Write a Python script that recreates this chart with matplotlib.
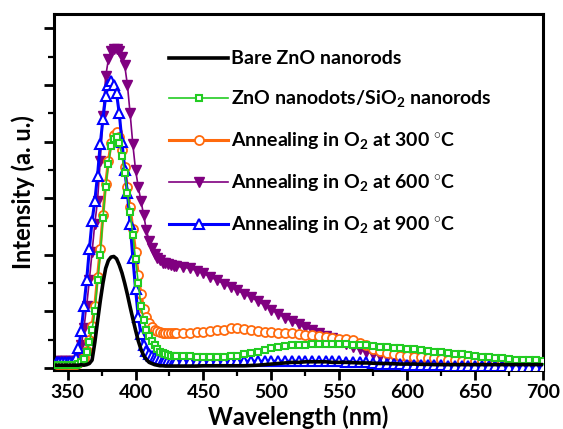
import numpy as np
import matplotlib
matplotlib.use('Agg')
import matplotlib.pyplot as plt
from matplotlib.ticker import MultipleLocator

plt.rcParams['font.family'] = ['Lato', 'DejaVu Sans']
plt.rcParams['font.weight'] = 'bold'
plt.rcParams['mathtext.fontset'] = 'custom'
plt.rcParams['mathtext.rm'] = 'Lato:bold'
plt.rcParams['mathtext.default'] = 'rm'

# Wavelength grid (nm): 2 nm steps through the UV peak, 5 nm steps in the visible tail
wavelength = np.concatenate([np.arange(342, 431, 2), np.arange(435, 701, 5)])

# PL intensity (a. u.), one value per grid point
bare_zno = [0.05, 0.05, 0.05, 0.05, 0.05, 0.05, 0.05, 0.05, 0.05, 0.06, 0.05, 0.06, 0.08, 0.14,
            0.45, 0.82, 1.18, 1.5, 1.76, 1.9, 1.96, 1.97, 1.93, 1.82, 1.68, 1.5, 1.3, 1.08,
            0.87, 0.67, 0.48, 0.33, 0.22, 0.15, 0.1, 0.08, 0.06, 0.05, 0.04, 0.04, 0.035, 0.035,
            0.035, 0.035, 0.035,
            0.035, 0.035, 0.035, 0.04, 0.04, 0.04, 0.04, 0.04, 0.04, 0.04, 0.045, 0.05, 0.06,
            0.07, 0.08, 0.09, 0.1, 0.1, 0.11, 0.11, 0.11, 0.11, 0.1, 0.1, 0.1, 0.095, 0.09,
            0.09, 0.085, 0.08, 0.08, 0.075, 0.07, 0.07, 0.07, 0.065, 0.065, 0.06, 0.06, 0.06, 0.06,
            0.06, 0.06, 0.06, 0.06, 0.06, 0.06, 0.06, 0.06, 0.06, 0.06, 0.06, 0.06, 0.06]
zno_sio2 = [0.06, 0.06, 0.06, 0.06, 0.06, 0.06, 0.06, 0.06, 0.07, 0.1, 0.16, 0.28, 0.46, 0.68,
            1.0, 1.55, 2.0, 2.65, 3.2, 3.6, 3.92, 4.05, 4.08, 3.98, 3.75, 3.45, 3.1, 2.75,
            2.35, 1.92, 1.5, 1.1, 0.84, 0.67, 0.56, 0.47, 0.4, 0.34, 0.29, 0.26, 0.24, 0.23,
            0.22, 0.21, 0.21,
            0.21, 0.21, 0.2, 0.2, 0.2, 0.2, 0.2, 0.21, 0.22, 0.24, 0.26, 0.29, 0.32, 0.35,
            0.37, 0.39, 0.4, 0.41, 0.41, 0.42, 0.42, 0.42, 0.42, 0.42, 0.42, 0.41, 0.41, 0.4,
            0.39, 0.38, 0.37, 0.36, 0.35, 0.34, 0.33, 0.31, 0.3, 0.29, 0.28, 0.26, 0.25, 0.24,
            0.23, 0.21, 0.2, 0.19, 0.18, 0.17, 0.16, 0.15, 0.15, 0.14, 0.14, 0.13, 0.13]
anneal_300 = [0.08, 0.08, 0.08, 0.08, 0.08, 0.08, 0.08, 0.08, 0.09, 0.12, 0.18, 0.3, 0.5, 0.75,
              1.1, 1.6, 2.1, 2.7, 3.25, 3.65, 3.97, 4.12, 4.17, 4.08, 3.85, 3.55, 3.2, 2.85,
              2.45, 2.05, 1.65, 1.3, 1.05, 0.9, 0.8, 0.73, 0.68, 0.65, 0.63, 0.62, 0.61, 0.61,
              0.61, 0.61, 0.61,
              0.61, 0.62, 0.63, 0.64, 0.65, 0.67, 0.68, 0.7, 0.71, 0.69, 0.67, 0.65, 0.64, 0.63,
              0.62, 0.61, 0.61, 0.6, 0.59, 0.58, 0.57, 0.55, 0.53, 0.52, 0.51, 0.49, 0.45, 0.4,
              0.34, 0.3, 0.27, 0.24, 0.22, 0.21, 0.2, 0.19, 0.18, 0.17, 0.16, 0.15, 0.14, 0.13,
              0.13, 0.12, 0.12, 0.11, 0.11, 0.1, 0.1, 0.09, 0.09, 0.09, 0.08, 0.08, 0.08]
anneal_600 = [0.12, 0.12, 0.12, 0.12, 0.12, 0.12, 0.12, 0.13, 0.2, 0.4, 0.7, 1.1, 1.55, 2.05,
              2.55, 2.95, 3.65, 4.45, 5.15, 5.45, 5.6, 5.63, 5.63, 5.6, 5.5, 5.35, 5.0, 4.5,
              3.95, 3.5, 3.2, 2.95, 2.7, 2.43, 2.25, 2.12, 2.02, 1.95, 1.9, 1.86, 1.85, 1.84,
              1.82, 1.81, 1.8, 1.78,
              1.76, 1.72, 1.67, 1.61, 1.55, 1.49, 1.43, 1.37, 1.31, 1.25, 1.18, 1.11, 1.03, 0.96,
              0.89, 0.83, 0.77, 0.72, 0.67, 0.62, 0.57, 0.53, 0.48, 0.43, 0.38, 0.33, 0.29, 0.25,
              0.22, 0.2, 0.17, 0.15, 0.13, 0.12, 0.12, 0.11, 0.11, 0.1, 0.1, 0.09, 0.09, 0.08,
              0.08, 0.08, 0.08, 0.07, 0.07, 0.07, 0.07, 0.06, 0.06, 0.06, 0.06, 0.06]
anneal_900 = [0.11, 0.11, 0.11, 0.11, 0.11, 0.11, 0.11, 0.18, 0.35, 0.65, 1.1, 1.55, 2.1, 2.6,
              2.95, 3.4, 3.95, 4.4, 4.8, 5.0, 5.07, 5.0, 4.85, 4.5, 4.0, 3.5, 3.1, 2.55,
              1.95, 1.4, 0.9, 0.6, 0.4, 0.3, 0.25, 0.21, 0.19, 0.17, 0.16, 0.15, 0.14, 0.14,
              0.13, 0.13, 0.13, 0.13,
              0.13, 0.13, 0.12, 0.12, 0.12, 0.12, 0.12, 0.12, 0.12, 0.12, 0.12, 0.12, 0.12, 0.12,
              0.12, 0.12, 0.12, 0.12, 0.12, 0.12, 0.12, 0.12, 0.12, 0.11, 0.11, 0.1, 0.1, 0.09,
              0.08, 0.08, 0.07, 0.07, 0.06, 0.06, 0.05, 0.05, 0.05, 0.05, 0.04, 0.04, 0.04, 0.04,
              0.03, 0.03, 0.03, 0.03, 0.03, 0.02, 0.02, 0.02, 0.02, 0.02, 0.02, 0.02]

n = len(wavelength)
bare_zno = bare_zno[:n]
zno_sio2 = zno_sio2[:n]
anneal_300 = anneal_300[:n]
anneal_600 = anneal_600[:n]
anneal_900 = anneal_900[:n]

fig = plt.figure(figsize=(5.63, 4.29), dpi=100)
ax = fig.add_axes([0.096, 0.1375, 0.8685, 0.8295])

ax.plot(wavelength, anneal_600, color='#800080', lw=1.2, marker='v', ms=7,
        mfc='#800080', mec='#800080', zorder=2,
        label='Annealing in O$_2$ at 600 $^{\\circ}$C')
ax.plot(wavelength, anneal_300, color='#FF6A0D', lw=2.2, marker='o', ms=6.5,
        mfc='white', mec='#FF6A0D', mew=1.3, zorder=3,
        label='Annealing in O$_2$ at 300 $^{\\circ}$C')
ax.plot(wavelength, anneal_900, color='#0000FF', lw=2.2, marker='^', ms=6.5,
        mfc='white', mec='#0000FF', mew=1.5, zorder=4,
        label='Annealing in O$_2$ at 900 $^{\\circ}$C')
ax.plot(wavelength, zno_sio2, color='#22CC22', lw=1.2, marker='s', ms=5,
        mfc='white', mec='#22CC22', mew=1.5, zorder=5,
        label='ZnO nanodots/SiO$_2$ nanorods')
ax.plot(wavelength, bare_zno, color='black', lw=2.6, zorder=6,
        label='Bare ZnO nanorods')

ax.set_xlim(340, 700)
ax.set_ylim(-0.035, 6.25)
ax.xaxis.set_major_locator(MultipleLocator(50))
ax.xaxis.set_minor_locator(MultipleLocator(25))
ax.yaxis.set_major_locator(MultipleLocator(1))
ax.yaxis.set_minor_locator(MultipleLocator(0.5))
ax.tick_params(which='major', direction='out', length=7, width=2, labelsize=14, pad=3)
ax.tick_params(which='minor', direction='out', length=4, width=1.6)
ax.tick_params(axis='y', labelleft=False)
for lbl in ax.get_xticklabels():
    lbl.set_fontweight('bold')
for s in ax.spines.values():
    s.set_linewidth(2.2)

ax.set_xlabel('Wavelength (nm)', fontsize=17, fontweight='bold', labelpad=3)
ax.set_ylabel('Intensity (a. u.)', fontsize=17, fontweight='bold', labelpad=6)

handles, labels = ax.get_legend_handles_labels()
order = [4, 3, 1, 0, 2]
ax.legend([handles[i] for i in order], [labels[i] for i in order],
          loc='upper left', bbox_to_anchor=(0.22, 0.92), frameon=False,
          fontsize=14, handlelength=3.0, handletextpad=0.15, labelspacing=1.08,
          numpoints=1, borderaxespad=0)

fig.savefig('out.png', dpi=100)
